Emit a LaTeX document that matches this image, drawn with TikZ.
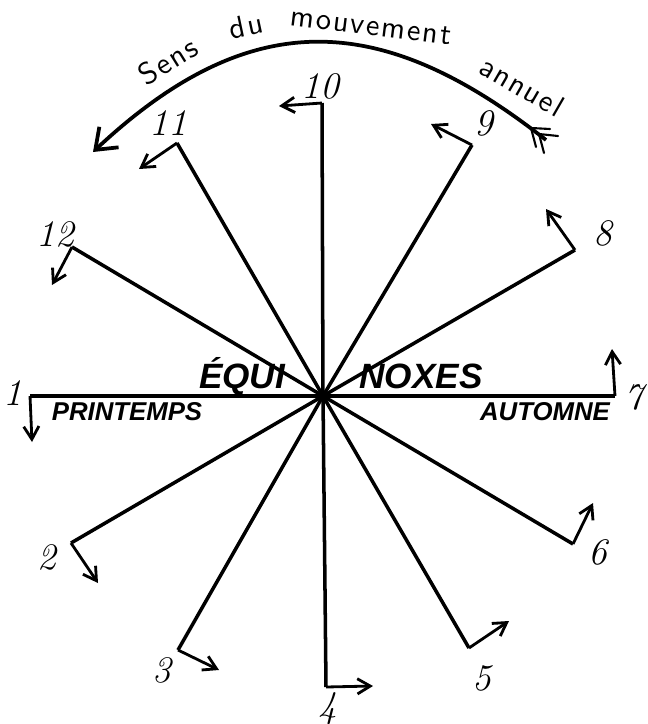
\documentclass[tikz,border=0pt]{standalone}
\usepackage{fontspec}
\newfontfamily\capsfont{Liberation Sans}
\newfontfamily\handfont{lmsans10-regular.otf}[LetterSpace=6]
\usetikzlibrary{arrows.meta}

\begin{document}
\begin{tikzpicture}[x=0.03cm, y=0.03cm,
    >={Straight Barb[length=11pt, width=13pt]},
    spoke/.style={line width=3pt},
    turn/.style={->, line width=2.4pt},
    num/.style={font=\fontsize{32}{32}\selectfont\itshape, inner sep=0pt},
    caps/.style={font=\fontsize{30}{30}\selectfont\capsfont\bfseries\itshape, inner sep=0pt},
    season/.style={font=\fontsize{22}{22}\selectfont\capsfont\bfseries\itshape, inner sep=0pt},
    word/.style={font=\fontsize{26}{26}\selectfont\handfont, inner sep=0pt},
    feather/.style={line width=1.8pt, line cap=round}]

    % Page frame (reference size in pixels)
    \useasboundingbox (0,0) rectangle (648,-724);

    % Centre and ends of the twelve spokes
    \coordinate (O) at (323,-396);
    \coordinate (e1) at (30,-396);   \coordinate (t1) at (32,-442);
    \coordinate (e2) at (71,-543);   \coordinate (t2) at (98,-583);
    \coordinate (e3) at (178,-650);  \coordinate (t3) at (219,-670);
    \coordinate (e4) at (326,-687);  \coordinate (t4) at (373,-686);
    \coordinate (e5) at (469,-648);  \coordinate (t5) at (509,-621);
    \coordinate (e6) at (573,-544);  \coordinate (t6) at (593,-503);
    \coordinate (e7) at (615,-396);  \coordinate (t7) at (612,-349);
    \coordinate (e8) at (575,-250);  \coordinate (t8) at (546,-209);
    \coordinate (e9) at (472,-145);  \coordinate (t9) at (431,-124);
    \coordinate (e10) at (322,-103); \coordinate (t10) at (279,-106);
    \coordinate (e11) at (177,-143); \coordinate (t11) at (139,-169);
    \coordinate (e12) at (72,-247);  \coordinate (t12) at (52,-285);

    % Spokes and the little turning arrows
    \foreach \i in {1,...,12} {
        \draw[spoke] (O) -- (e\i);
        \draw[turn] (e\i) -- (t\i);
    }

    % Numbers of the months
    \node[num] (n1) at (13,-393) {1};
    \node[num] (n2) at (47,-557) {2};
    \node[num] (n3) at (162,-670) {3};
    \node[num] (n4) at (328,-709) {4};
    \node[num] (n5) at (482,-678) {5};
    \node[num] (n6) at (598,-552) {6};
    \node[num] (n7) at (634,-397) {7};
    \node[num] (n8) at (603,-233) {8};
    \node[num] (n9) at (484,-123) {9};
    \node[num] (n10) at (320,-86) {10};
    \node[num] (n11) at (168,-123) {11};
    \node[num] (n12) at (55,-234) {12};

    % Equinox words
    \node[caps] (equi) at (242,-376) {ÉQUI};
    \node[caps] (noxes) at (421,-376) {NOXES};
    \node[season] (spring) at (127,-412) {PRINTEMPS};
    \node[season] (autumn) at (545,-412) {AUTOMNE};

    % Direction of the yearly motion
    \coordinate (s0) at (546,-140);
    \coordinate (s3) at (93,-152);
    \draw[line width=3.2pt, -{Straight Barb[length=16pt, width=24pt]}]
        (s0) .. controls (380,-9) and (249,-6) .. (s3);
    % feathers at the tail
    \draw[feather] (550,-129) -- (531,-128) -- (536,-147);
    \draw[feather] (558,-136) -- (539,-134) -- (544,-153);
    \node[word, rotate=32] (sens) at (168,-61) {Sens};
    \node[word, rotate=12] (du) at (246,-26) {du};
    \node[word, rotate=-7] (mvt) at (371,-27) {mouvement};
    \node[word, rotate=-30] (ann) at (522,-86) {annuel};
\end{tikzpicture}
\end{document}
